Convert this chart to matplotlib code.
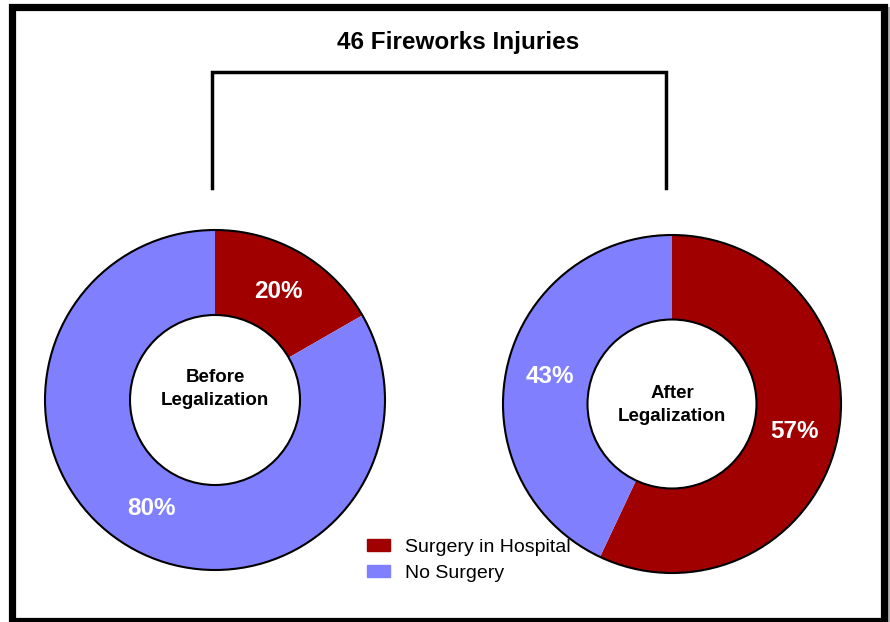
import matplotlib.pyplot as plt
import matplotlib.patches as mpatches
import numpy as np

plt.rcParams['font.family'] = ['Liberation Sans', 'DejaVu Sans']

# data
categories = ['Surgery in Hospital', 'No Surgery']
colors = ['#A00000', '#8080FF']
before_share = [16.7, 83.3]   # wedge as drawn in the picture
before_labels = ['20%', '80%']
after_share = [57, 43]
after_labels = ['57%', '43%']
title = '46 Fireworks Injuries'

W, H = 890, 622
fig = plt.figure(figsize=(W / 100, H / 100), dpi=100)
ax = fig.add_axes([0, 0, 1, 1])
ax.set_xlim(0, W)
ax.set_ylim(0, H)
ax.set_aspect('equal')
ax.axis('off')


def donut(cx, cy, r, shares, labels, center_text, text_dy):
    wedges, _ = ax.pie(shares, colors=colors, startangle=90, counterclock=False,
                       center=(cx, cy), radius=r, frame=True,
                       wedgeprops=dict(width=r / 2, linewidth=0))
    # black outlines of the ring
    ax.add_patch(mpatches.Circle((cx, cy), r, fill=False, lw=1.5, ec='black'))
    ax.add_patch(mpatches.Circle((cx, cy), r / 2, fc='white', lw=1.5, ec='black'))
    for w, lab in zip(wedges, labels):
        ang = np.deg2rad((w.theta1 + w.theta2) / 2)
        ax.text(cx + 0.74 * r * np.cos(ang), cy + 0.74 * r * np.sin(ang), lab,
                color='white', fontsize=17.5, fontweight='bold',
                ha='center', va='center')
    ax.text(cx, cy + text_dy, center_text, fontsize=13.5, fontweight='bold',
            ha='center', va='center', linespacing=1.45)


donut(215, H - 400, 170, before_share, before_labels, 'Before\nLegalization', 11)
donut(672, H - 404, 169, after_share, after_labels, 'After\nLegalization', -1)

# title and bracket
ax.text(458, H - 42, title, fontsize=17.5, fontweight='bold', ha='center', va='center')
ax.plot([212, 212, 666, 666], [H - 188, H - 72, H - 72, H - 188],
        color='black', lw=2.5, solid_joinstyle='miter')

# legend
handles = [mpatches.Patch(color=c) for c in colors]
ax.legend(handles, categories, loc='upper left', bbox_to_anchor=(367, H - 539),
          bbox_transform=ax.transData, frameon=False, fontsize=14,
          handlelength=1.18, handleheight=0.52, handletextpad=0.77,
          labelspacing=0.45, borderpad=0, borderaxespad=0)

# outer frame with a light shadow
ax.add_patch(mpatches.Rectangle((14, 0), 875, H - 8, fill=False, lw=1.5,
                                ec='#b0b0b0', zorder=9))
ax.add_patch(mpatches.Rectangle((12, 1.5), 871.5, H - 8, fill=False, lw=5.2,
                                ec='black', joinstyle='miter', zorder=10))

fig.savefig('out.png', dpi=100)
